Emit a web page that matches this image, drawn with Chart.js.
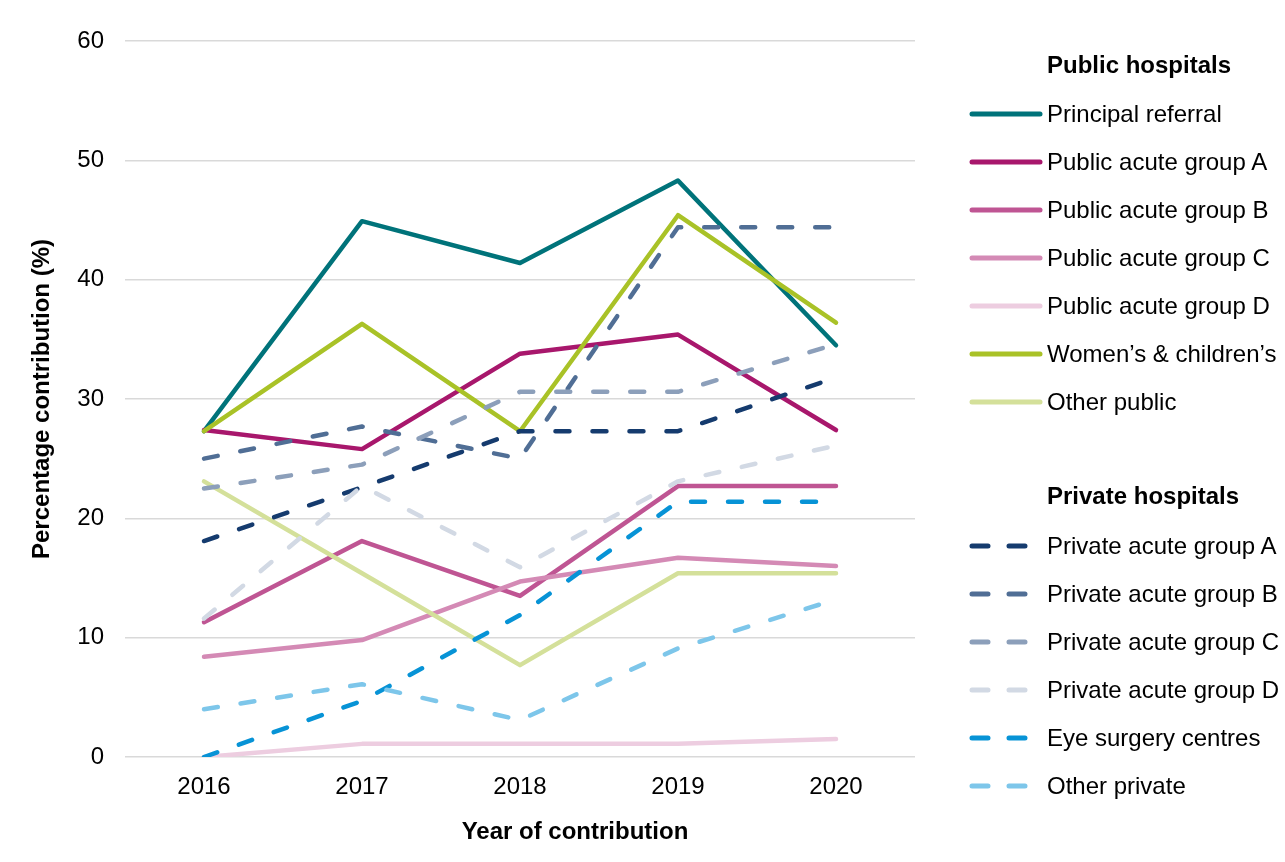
<!DOCTYPE html>
<html>
<head>
<meta charset="utf-8">
<script src="https://cdn.jsdelivr.net/npm/chart.js@4.4.1/dist/chart.umd.min.js"></script>
<style>
  body { margin: 0; background: #fff; }
  #wrap { position: relative; width: 1285px; height: 862px; font-family: "Liberation Sans", Arial, sans-serif; color: #000; }
  #chart { position: absolute; left: 0; top: 0; }
  .legend-head { position: absolute; left: 1047px; font-size: 24px; font-weight: bold; transform: translateY(-50%); white-space: nowrap; }
  .legend-item { position: absolute; left: 968px; display: flex; align-items: center; font-size: 24px; transform: translateY(-50%); white-space: nowrap; }
  .legend-item svg { margin-right: 3px; }
  #xTitle { position: absolute; left: 575px; top: 831px; transform: translate(-50%, -50%); font-size: 24px; font-weight: bold; white-space: nowrap; }
</style>
</head>
<body>
<div id="wrap">
  <canvas id="chart" width="1285" height="862"></canvas>
  <div id="xTitle">Year of contribution</div>
  <div id="legend"></div>
</div>
<script>
const years = ['2016', '2017', '2018', '2019', '2020'];

// public hospitals
const principalReferral = [27.3, 44.9, 41.4, 48.3, 34.5];
const publicAcuteA = [27.4, 25.8, 33.8, 35.4, 27.4];
const publicAcuteB = [11.3, 18.1, 13.5, 22.7, 22.7];
const publicAcuteC = [8.4, 9.8, 14.7, 16.7, 16.0];
const publicAcuteD = [0, 1.1, 1.1, 1.1, 1.5];
const womensChildrens = [27.3, 36.3, 27.3, 45.4, 36.4];
const otherPublic = [23.1, 15.4, 7.7, 15.4, 15.4];

// private hospitals
const privateAcuteA = [18.1, 22.6, 27.3, 27.3, 31.8];
const privateAcuteB = [25.0, 27.7, 25.0, 44.4, 44.4];
const privateAcuteC = [22.5, 24.5, 30.6, 30.6, 34.6];
const privateAcuteD = [11.6, 22.7, 15.9, 23.1, 26.1];
const eyeSurgery = [0, 4.7, 11.9, 21.4, 21.4];
const otherPrivate = [4.0, 6.1, 3.1, 9.1, 13.2];

const publicSeries = [
  { label: 'Principal referral', data: principalReferral, color: '#00737A' },
  { label: 'Public acute group A', data: publicAcuteA, color: '#A8176C' },
  { label: 'Public acute group B', data: publicAcuteB, color: '#BF5593' },
  { label: 'Public acute group C', data: publicAcuteC, color: '#D48AB5' },
  { label: 'Public acute group D', data: publicAcuteD, color: '#EDCDE0' },
  { label: 'Women\u2019s & children\u2019s', data: womensChildrens, color: '#A9C227' },
  { label: 'Other public', data: otherPublic, color: '#D4E09A' },
];
const privateSeries = [
  { label: 'Private acute group A', data: privateAcuteA, color: '#153B6E' },
  { label: 'Private acute group B', data: privateAcuteB, color: '#506E95' },
  { label: 'Private acute group C', data: privateAcuteC, color: '#8C9FBA' },
  { label: 'Private acute group D', data: privateAcuteD, color: '#D2D9E4' },
  { label: 'Eye surgery centres', data: eyeSurgery, color: '#0793D6' },
  { label: 'Other private', data: otherPrivate, color: '#7DC6EA' },
];

const dash = [14, 23];
const allSeries = publicSeries.map(s => ({ ...s, dashed: false }))
  .concat(privateSeries.map(s => ({ ...s, dashed: true })));

const datasets = allSeries.map((s, i) => ({
  label: s.label,
  data: s.data,
  borderColor: s.color,
  backgroundColor: s.color,
  borderWidth: 4.5,
  borderDash: s.dashed ? dash : [],
  borderCapStyle: 'round',
  borderJoinStyle: 'round',
  pointRadius: 0,
  tension: 0,
  fill: false,
  order: allSeries.length - i, // later series on top, like the original
}));

const font = 'Liberation Sans, Arial, sans-serif';

new Chart(document.getElementById('chart'), {
  type: 'line',
  data: { labels: years, datasets: datasets },
  options: {
    responsive: false,
    animation: false,
    layout: { padding: { top: 41, right: 370, left: 0, bottom: 0 } },
    plugins: { legend: { display: false }, tooltip: { enabled: false } },
    scales: {
      x: {
        offset: true,
        grid: { display: false, drawTicks: false },
        border: { display: false },
        ticks: { color: '#000', font: { family: font, size: 24 }, padding: 16 },
        // the axis title sits off-centre in the original, so it is an html label (#xTitle)
        title: { display: false },
        afterFit: scale => { scale.height = 105; },
      },
      y: {
        min: 0,
        max: 60,
        grid: { color: '#D9D9D9', lineWidth: 1.5, drawTicks: false },
        border: { display: false },
        ticks: { stepSize: 10, color: '#000', font: { family: font, size: 24 }, padding: 21 },
        title: { display: true, text: 'Percentage contribution (%)', color: '#000', font: { family: font, size: 24, weight: 'bold' }, padding: { top: 28, bottom: 0 } },
        afterFit: scale => { scale.width = 125; },
      },
    },
  },
});

// grouped legend on the right
const legend = document.getElementById('legend');
function addHead(text, y) {
  const el = document.createElement('div');
  el.className = 'legend-head';
  el.style.top = y + 'px';
  el.textContent = text;
  legend.appendChild(el);
}
function addItem(s, dashed, y) {
  const el = document.createElement('div');
  el.className = 'legend-item';
  el.style.top = y + 'px';
  const da = dashed ? ' stroke-dasharray="16 21"' : '';
  el.innerHTML = '<svg width="76" height="8"><line x1="4" y1="4" x2="' + (dashed ? 62 : 72) + '" y2="4" stroke="' + s.color +
    '" stroke-width="5" stroke-linecap="round"' + da + '/></svg>';
  const t = document.createElement('span');
  t.textContent = s.label;
  el.appendChild(t);
  legend.appendChild(el);
}
addHead('Public hospitals', 65);
publicSeries.forEach((s, i) => addItem(s, false, 114 + i * 48));
addHead('Private hospitals', 496);
privateSeries.forEach((s, i) => addItem(s, true, 546 + i * 48));
</script>
</body>
</html>
